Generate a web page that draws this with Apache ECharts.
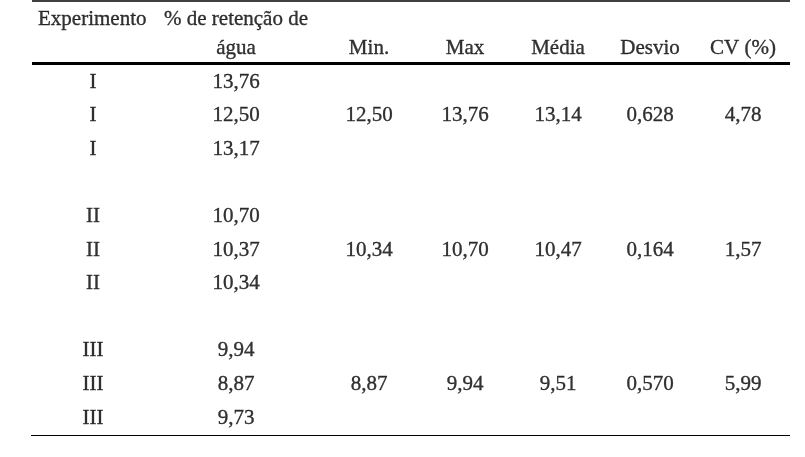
<!DOCTYPE html>
<html><head><meta charset="utf-8">
<script src="https://cdn.jsdelivr.net/npm/echarts@6/dist/echarts.min.js"></script>
<style>html,body{margin:0;padding:0;background:#fff}#c{width:805px;height:457px}</style>
</head><body><div id="c"></div>
<script>
// ---- data ----
const headerLine1 = ['Experimento', '% de retenção de', '', '', '', '', ''];
const headerLine2 = ['', 'água', 'Min.', 'Max', 'Média', 'Desvio', 'CV (%)'];
const experiments = ['I', 'I', 'I', 'II', 'II', 'II', 'III', 'III', 'III'];
const retention = [13.76, 12.50, 13.17, 10.70, 10.37, 10.34, 9.94, 8.87, 9.73];
const minVals = [12.50, 10.34, 8.87];
const maxVals = [13.76, 10.70, 9.94];
const meanVals = [13.14, 10.47, 9.51];
const sdVals = [0.628, 0.164, 0.570];
const cvVals = [4.78, 1.57, 5.99];

// ---- layout ----
const colX = [93, 236, 369, 465, 558, 650, 743];
const rowY0 = 82, rowStep = 33.6;
const groupRows = [[0, 1, 2], [4, 5, 6], [8, 9, 10]];
const fmt = (v, d) => v.toFixed(d).replace('.', ',');
const rowY = i => rowY0 + rowStep * i;

const cells = [];
experiments.forEach((e, k) => {
  const g = Math.floor(k / 3), r = groupRows[g][k % 3];
  cells.push([colX[0], rowY(r), e]);
  cells.push([colX[1], rowY(r), fmt(retention[k], 2)]);
});
groupRows.forEach((rows, g) => {
  const y = rowY(rows[1]);
  cells.push([colX[2], y, fmt(minVals[g], 2)]);
  cells.push([colX[3], y, fmt(maxVals[g], 2)]);
  cells.push([colX[4], y, fmt(meanVals[g], 2)]);
  cells.push([colX[5], y, fmt(sdVals[g], 3)]);
  cells.push([colX[6], y, fmt(cvVals[g], 2)]);
});
headerLine2.forEach((h, i) => { if (h) cells.push([colX[i], 48, h]); });
cells.push([colX[1], 19, headerLine1[1]]);
const leftCells = [[38, 19, headerLine1[0]]];

const font = {fontFamily: 'Liberation Serif', fontSize: 21, color: '#000', textBorderColor: '#000', textBorderWidth: 0.35};
const chart = echarts.init(document.getElementById('c'), null, {renderer: 'canvas'});
chart.setOption({
  animation: false,
  grid: {left: 0, right: 0, top: 0, bottom: 0},
  xAxis: {type: 'value', min: 0, max: 805, show: false},
  yAxis: {type: 'value', min: 0, max: 457, inverse: true, show: false},
  series: [
    {
      type: 'scatter', symbolSize: 0, data: cells,
      label: {show: true, position: 'inside', formatter: p => p.data[2], align: 'center', verticalAlign: 'middle', ...font}
    },
    {
      type: 'scatter', symbolSize: 0, data: leftCells,
      label: {show: true, position: 'inside', formatter: p => p.data[2], align: 'left', verticalAlign: 'middle', ...font}
    },
    {
      type: 'line', data: [], silent: true,
      markLine: {
        symbol: 'none', silent: true, label: {show: false},
        data: [
          [{coord: [32, 1], lineStyle: {width: 1.5, color: '#000', type: 'solid'}}, {coord: [790, 1]}],
          [{coord: [32, 63.5], lineStyle: {width: 3, color: '#000', type: 'solid'}}, {coord: [790, 63.5]}],
          [{coord: [31, 435.5], lineStyle: {width: 1.2, color: '#000', type: 'solid'}}, {coord: [790, 435.5]}]
        ]
      }
    }
  ]
});
</script></body></html>
